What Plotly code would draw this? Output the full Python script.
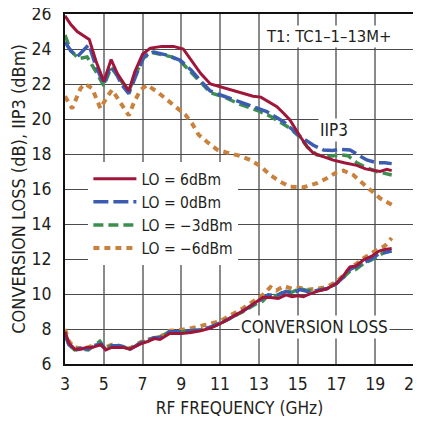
import plotly.graph_objects as go

# ---------------- IIP3 data (dBm) ----------------
iip3_6_f = [3.0, 3.3, 3.63, 4.0, 4.25, 4.6, 5.0, 5.38, 5.7, 6.29, 6.6, 7.0, 7.4, 8.0, 8.6, 9.1, 9.5, 10.0,
            10.5, 11.0, 11.6, 12.2, 12.7, 13.1, 13.5, 13.93, 14.3, 14.6, 15.13, 15.5, 15.81, 16.3, 16.84,
            17.4, 18.05, 18.5, 18.73, 19.25, 19.6, 19.85]
iip3_6_v = [25.9, 25.4, 25.0, 24.75, 24.55, 23.3, 22.15, 23.4, 22.6, 21.6, 22.7, 23.7, 24.05, 24.15, 24.15,
            24.0, 23.4, 22.6, 22.0, 21.85, 21.65, 21.45, 21.3, 21.25, 21.0, 20.7, 20.3, 19.95, 19.0, 18.4,
            18.05, 17.85, 17.65, 17.5, 17.35, 17.15, 17.1, 17.0, 17.12, 17.05]

iip3_0_f = [3.0, 3.3, 3.63, 4.0, 4.23, 4.6, 5.0, 5.34, 5.6, 5.9, 6.29, 6.7, 7.06, 7.49, 8.0, 8.26, 8.95, 9.5,
            9.98, 10.49, 11.2, 12.2, 12.8, 13.41, 14.27, 15.13, 15.81, 16.33, 16.8, 17.19, 17.7, 18.2,
            18.56, 19.07, 19.5, 19.85]
iip3_0_v = [24.4, 23.9, 23.55, 24.0, 24.25, 23.0, 22.0, 23.0, 22.7, 22.0, 21.45, 22.6, 23.55, 23.85, 23.7,
            23.65, 23.35, 22.8, 22.2, 21.6, 21.3, 20.9, 20.65, 20.42, 19.85, 19.0, 18.5, 18.23, 18.2, 18.27,
            18.23, 17.9, 17.66, 17.5, 17.5, 17.45]

iip3_m3_f = [3.0, 3.3, 3.7, 4.14, 4.6, 5.0, 5.38, 5.7, 6.29, 6.7, 7.06, 7.49, 8.0, 8.5, 8.95, 9.5, 10.0, 10.5,
             11.18, 12.0, 12.9, 13.6, 14.2, 14.61, 15.13, 15.5, 15.99, 16.5, 17.19, 17.6, 18.05, 18.6,
             19.07, 19.5, 19.85]
iip3_m3_v = [24.8, 23.9, 23.45, 23.55, 22.7, 21.9, 22.95, 22.5, 21.6, 22.7, 23.5, 23.8, 23.65, 23.55, 23.3,
             22.7, 22.1, 21.5, 21.27, 20.85, 20.5, 20.15, 19.75, 19.47, 18.95, 18.4, 17.95, 17.85, 17.95,
             17.9, 17.5, 17.2, 17.0, 16.9, 16.8]

iip3_m6_f = [3.0, 3.37, 3.8, 4.05, 4.4, 4.83, 5.17, 5.43, 5.77, 6.29, 6.54, 6.89, 7.23, 7.75, 8.26, 8.69, 9.2,
             9.55, 9.89, 10.32, 10.84, 11.35, 12.0, 12.55, 13.07, 13.58, 14.1, 14.61, 15.3, 15.99, 16.5,
             17.0, 17.36, 17.87, 18.2, 18.56, 19.25, 19.85]
iip3_m6_v = [21.3, 20.6, 21.75, 22.0, 21.75, 20.6, 21.27, 21.66, 21.09, 20.2, 20.9, 21.66, 21.94, 21.56,
             21.1, 20.7, 20.25, 19.75, 19.1, 18.7, 18.25, 18.08, 17.9, 17.66, 17.31, 16.8, 16.42, 16.13,
             16.1, 16.33, 16.61, 16.95, 17.05, 16.8, 16.5, 16.13, 15.47, 15.1]

# ---------------- Conversion loss data (dB) ----------------
cl_6_f = [3.0, 3.2, 3.5, 3.8, 4.1, 4.4, 4.7, 4.85, 5.1, 5.4, 5.7, 6.0, 6.35, 6.9, 7.3, 7.6, 7.9, 8.4, 9.0,
          9.5, 10.0, 10.5, 11.0, 11.5, 12.2, 12.8, 13.2, 13.6, 14.0, 14.4, 14.7, 15.0, 15.3, 15.5, 16.0,
          16.5, 17.0, 17.4, 17.7, 18.0, 18.4, 18.8, 19.2, 19.5, 19.85]
cl_6_v = [7.85, 7.2, 6.85, 6.85, 6.95, 6.95, 7.05, 7.1, 6.8, 6.95, 6.95, 6.95, 6.85, 7.15, 7.3, 7.45, 7.4,
          7.75, 7.75, 7.8, 7.9, 8.05, 8.3, 8.6, 9.05, 9.5, 9.8, 9.8, 9.75, 9.95, 9.85, 9.9, 9.85, 9.95,
          10.15, 10.3, 10.6, 11.1, 11.55, 11.6, 11.95, 12.15, 12.45, 12.55, 12.6]

cl_0_f = [3.0, 3.2, 3.5, 3.8, 4.2, 4.5, 4.85, 5.1, 5.4, 5.8, 6.35, 6.9, 7.3, 7.6, 7.9, 8.4, 9.0, 9.5, 10.0,
          10.5, 11.0, 11.5, 12.2, 12.8, 13.2, 13.5, 13.9, 14.4, 14.8, 15.1, 15.5, 16.0, 16.5, 17.0, 17.4,
          17.7, 18.0, 18.4, 18.8, 19.2, 19.5, 19.85]
cl_0_v = [7.7, 7.1, 6.8, 6.9, 6.85, 7.05, 7.15, 6.85, 7.05, 7.05, 6.85, 7.2, 7.35, 7.5, 7.5, 7.85, 7.85,
          7.9, 7.95, 8.1, 8.35, 8.6, 9.05, 9.5, 9.75, 9.95, 9.9, 10.15, 10.05, 10.25, 10.15, 10.2, 10.3,
          10.6, 11.0, 11.4, 11.55, 11.8, 12.0, 12.3, 12.35, 12.45]

cl_m3_f = [3.0, 3.2, 3.5, 3.8, 4.2, 4.5, 4.8, 5.05, 5.4, 5.8, 6.35, 6.9, 7.3, 7.6, 7.9, 8.4, 9.0, 9.5, 10.0,
           10.5, 11.0, 11.5, 12.2, 12.8, 13.2, 13.5, 13.9, 14.3, 14.7, 15.1, 15.5, 16.0, 16.5, 17.0, 17.4,
           17.7, 18.0, 18.4, 18.8, 19.2, 19.5, 19.85]
cl_m3_v = [7.75, 7.1, 6.8, 6.85, 6.8, 7.05, 7.3, 6.9, 7.05, 7.05, 6.85, 7.2, 7.35, 7.5, 7.55, 7.85, 7.85,
           7.9, 7.95, 8.1, 8.3, 8.6, 9.0, 9.4, 9.6, 9.95, 9.9, 10.15, 10.1, 10.3, 10.2, 10.2, 10.3, 10.6,
           11.0, 11.3, 11.4, 11.75, 11.95, 12.2, 12.4, 12.55]

cl_m6_f = [3.0, 3.2, 3.5, 3.8, 4.2, 4.5, 4.85, 5.1, 5.4, 5.8, 6.35, 6.9, 7.3, 7.6, 7.9, 8.4, 9.0, 9.5, 10.0,
           10.5, 11.0, 11.5, 12.2, 12.8, 13.2, 13.6, 13.9, 14.3, 14.7, 15.1, 15.5, 16.0, 16.5, 17.0, 17.4,
           17.7, 18.0, 18.4, 18.8, 19.2, 19.5, 19.85]
cl_m6_v = [8.0, 7.3, 6.95, 6.9, 6.95, 7.1, 7.1, 6.95, 7.1, 7.05, 6.9, 7.25, 7.4, 7.5, 7.55, 7.9, 7.95, 8.05,
           8.15, 8.3, 8.45, 8.75, 9.2, 9.65, 9.95, 10.4, 10.2, 10.45, 10.3, 10.35, 10.25, 10.3, 10.4, 10.7,
           11.1, 11.5, 11.7, 12.05, 12.35, 12.6, 12.75, 13.2]

legend_names = ["LO = 6dBm", "LO = 0dBm", "LO = −3dBm", "LO = −6dBm"]
colors = ["#a0163a", "#3b5cb0", "#3d8f4e", "#c9823e"]
dashes = ["solid", "15px,5px", "10px,5px", "6px,5px"]
widths = [3, 3.5, 3.5, 4]

x_ticks = [3, 5, 7, 9, 11, 13, 15, 17, 19, 21]
y_ticks = [6, 8, 10, 12, 14, 16, 18, 20, 22, 24, 26]

FONT = "DejaVu Sans Condensed, Liberation Sans, sans-serif"
TXT = "#231f20"

fig = go.Figure()

iip3_sets = [(iip3_6_f, iip3_6_v), (iip3_0_f, iip3_0_v), (iip3_m3_f, iip3_m3_v), (iip3_m6_f, iip3_m6_v)]
cl_sets = [(cl_6_f, cl_6_v), (cl_0_f, cl_0_v), (cl_m3_f, cl_m3_v), (cl_m6_f, cl_m6_v)]

order = [3, 2, 1, 0]
for i in order:
    f, v = cl_sets[i]
    fig.add_trace(go.Scatter(x=f, y=v, mode="lines", showlegend=False,
                             line=dict(color=colors[i], width=widths[i], dash=dashes[i])))
for i in order:
    f, v = iip3_sets[i]
    fig.add_trace(go.Scatter(x=f, y=v, mode="lines", name=legend_names[i], legendrank=i + 1,
                             line=dict(color=colors[i], width=widths[i], dash=dashes[i])))

fig.add_annotation(x=16.62, y=24.69, text="T1: TC1–1–13M+", showarrow=False,
                   bgcolor="white", font=dict(family=FONT, size=16.5, color=TXT))
fig.add_annotation(x=16.88, y=19.37, text="IIP3", showarrow=False,
                   bgcolor="white", font=dict(family=FONT, size=17, color=TXT))
fig.add_annotation(x=15.85, y=8.12, text="CONVERSION LOSS", showarrow=False,
                   bgcolor="white", font=dict(family=FONT, size=17, color=TXT))

# The page body adds an 8px offset; the figure is sized so that it fills the 421px window.
fig.update_layout(
    template="none",
    width=413, height=413,
    margin=dict(l=56.5, r=7, t=6, b=57, autoexpand=False),
    paper_bgcolor="white", plot_bgcolor="white",
    font=dict(family=FONT, size=17, color=TXT),
    showlegend=True,
    legend=dict(x=0.067, y=0.577, xanchor="left", yanchor="top",
                bgcolor="white", borderwidth=0, font=dict(family=FONT, size=15.5, color=TXT),
                itemwidth=43, tracegroupgap=0),
    xaxis=dict(range=[3, 21], tickvals=x_ticks, ticktext=[str(t) for t in x_ticks],
               showgrid=True, gridcolor="#8a8a8a", gridwidth=1.5,
               showline=True, linecolor="#111", linewidth=2, mirror=True,
               ticks="", ticklabelstandoff=3, zeroline=False, automargin=False,
               ticklabeloverflow="allow",
               title=dict(text="RF FREQUENCY (GHz)", standoff=9, font=dict(family=FONT, size=17.2, color=TXT)),
               tickfont=dict(family=FONT, size=17.5, color=TXT)),
    yaxis=dict(range=[6, 26], tickvals=y_ticks, ticktext=[str(t) for t in y_ticks],
               showgrid=True, gridcolor="#4a4a4a", gridwidth=1,
               showline=True, linecolor="#111", linewidth=2, mirror=True,
               ticks="", ticklabelstandoff=8, zeroline=False, automargin=False,
               ticklabeloverflow="allow",
               title=dict(text="CONVERSION LOSS (dB), IIP3 (dBm)", standoff=8,
                          font=dict(family=FONT, size=18, color=TXT)),
               tickfont=dict(family=FONT, size=17.5, color=TXT)),
)

fig.write_html("out.html")
